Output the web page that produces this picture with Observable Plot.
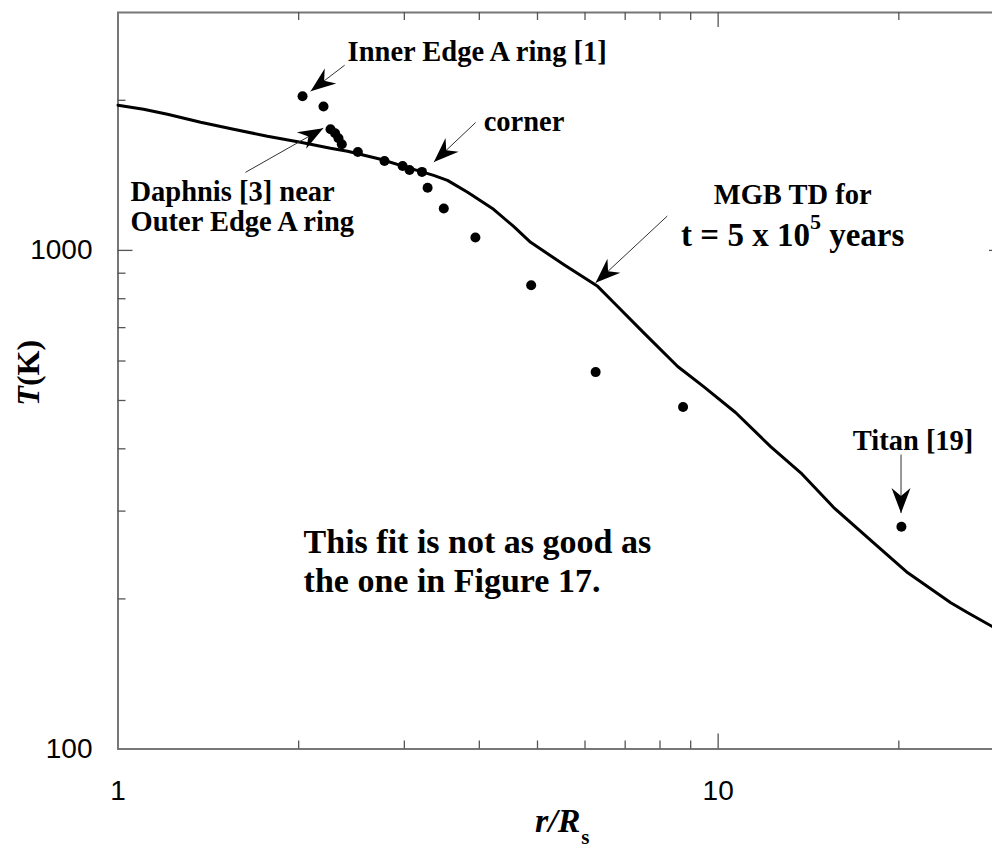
<!DOCTYPE html>
<html><head><meta charset="utf-8">
<script src="https://cdn.jsdelivr.net/npm/d3@7"></script>
<script src="https://cdn.jsdelivr.net/npm/@observablehq/plot@0.6"></script>
<style>html,body{margin:0;padding:0;background:#fff;overflow:hidden}</style>
</head><body><div id="chart"></div>
<script>
// Observed temperatures (dots)
const obsR = [2.03, 2.20, 2.26, 2.30, 2.33, 2.36, 2.51, 2.78, 2.98, 3.06, 3.21, 3.28, 3.49, 3.94, 4.88, 6.25, 8.74, 20.2];
const obsT = [2038, 1943, 1750, 1718, 1679, 1633, 1575, 1511, 1477, 1450, 1437, 1336, 1213, 1061, 851, 570, 485, 279];
// MGB TD model curve
const modelR = [1, 1.103, 1.209, 1.373, 1.558, 1.774, 2.014, 2.26, 2.413, 2.739, 3.108, 3.357, 3.54, 3.824, 4.225, 4.562, 4.87, 5.528, 6.298, 6.698, 7.511, 8.562, 9.459, 10.69, 12.23, 13.73, 15.58, 18.16, 20.70, 24.41, 26.06, 28.68, 30];
const modelT = [1955, 1919, 1875, 1807, 1750, 1694, 1648, 1603, 1581, 1523, 1454, 1414, 1382, 1308, 1209, 1117, 1038, 937, 847, 786, 684, 585, 533, 473, 404, 358, 305, 259, 225.6, 196.5, 187.6, 175.8, 171.8];
// Axis ticks
const xTickLabels = [1, 10];
const yTickLabels = [100, 1000];
const xMinorTicks = [2, 3, 4, 5, 6, 7, 8, 9, 20];
const xMajorTicks = [10];
const yMinorTicks = [200, 300, 400, 500, 600, 700, 800, 900, 2000];
const yMajorTicks = [1000];
// Annotations
const noteText = ["Inner Edge A ring [1]", "corner", "Daphnis [3] near\nOuter Edge A ring", "Titan [19]"];
const noteR = [2.413, 4.067, 1.049, 16.76];
const noteT = [2396, 1734, 1092, 398.5];
const mgbText = ["MGB TD for", "t = 5 x 10^5 years"];
const mgbR = [13.31, 13.31];
const mgbT = [1237, 1019];
const fitText = ["This fit is not as good as\nthe one in Figure 17."];
const fitR = [2.038];
const fitT = [206.7];
// Annotation arrows (tail -> tip)
const arrowR1 = [2.386, 1.631, 3.944, 8.228, 20.17];
const arrowT1 = [2352, 1434, 1805, 1172, 389.5];
const arrowR2 = [2.094, 2.198, 3.360, 6.249, 20.17];
const arrowT2 = [2086, 1758, 1504, 861, 297.3];

const obs = obsR.map((r, i) => ({r, T: obsT[i]}));
const model = modelR.map((r, i) => ({r, T: modelT[i]}));
const notes = noteText.map((t, i) => ({t, r: noteR[i], T: noteT[i]}));
const mgb = mgbText.map((t, i) => ({t, r: mgbR[i], T: mgbT[i]}));
const fit = fitText.map((t, i) => ({t, r: fitR[i], T: fitT[i]}));
const arrows = arrowR1.map((r, i) => ({r1: r, T1: arrowT1[i], r2: arrowR2[i], T2: arrowT2[i]}));

const W = 992, H = 850, mL = 117.5, mR = -12, mT = 12, mB = 101.5;
const innerW = W - mL - mR, innerH = H - mT - mB;
const serif = "'Liberation Serif', 'Times New Roman', serif";
const tickStroke = "#555";

const chart = Plot.plot({
  width: W, height: H,
  marginLeft: mL, marginRight: mR, marginTop: mT, marginBottom: mB,
  style: {fontFamily: "'Liberation Sans', Arial, sans-serif", background: "#fff", overflow: "hidden", color: "#000"},
  x: {type: "log", domain: [1, 30]},
  y: {type: "log", domain: [100, 3000]},
  marks: [
    Plot.frame({stroke: "#777", strokeWidth: 2}),
    // bottom & top ticks
    Plot.tickX(xMinorTicks, {x: d => d, insetTop: innerH - 8, stroke: tickStroke, strokeWidth: 1.3}),
    Plot.tickX(xMajorTicks, {x: d => d, insetTop: innerH - 15, stroke: tickStroke, strokeWidth: 1.3}),
    Plot.tickX(xMinorTicks, {x: d => d, insetBottom: innerH - 8, stroke: tickStroke, strokeWidth: 1.3}),
    Plot.tickX(xMajorTicks, {x: d => d, insetBottom: innerH - 15, stroke: tickStroke, strokeWidth: 1.3}),
    // left & right ticks
    Plot.tickY(yMinorTicks, {y: d => d, insetRight: innerW - 8, stroke: tickStroke, strokeWidth: 1.3}),
    Plot.tickY(yMajorTicks, {y: d => d, insetRight: innerW - 15, stroke: tickStroke, strokeWidth: 1.3}),
    Plot.tickY(yMinorTicks, {y: d => d, insetLeft: innerW - 8, stroke: tickStroke, strokeWidth: 1.3}),
    Plot.tickY(yMajorTicks, {y: d => d, insetLeft: innerW - 15, stroke: tickStroke, strokeWidth: 1.3}),
    Plot.axisX({ticks: xTickLabels, tickSize: 0, tickPadding: 31, fontSize: 28, label: null, tickFormat: d => String(d), fill: "#000"}),
    Plot.axisY({ticks: yTickLabels, tickSize: 0, tickPadding: 25.5, fontSize: 28, label: null, tickFormat: d => String(d), fill: "#000"}),
    // axis titles
    Plot.text(["T(K)"], {text: d => d, frameAnchor: "left", dx: -89.5, dy: -8, rotate: -90, fontSize: 32, fontWeight: "bold", fontFamily: serif, textAnchor: "middle", fill: "#000"}),
    Plot.text(["r/Rs"], {text: d => d, frameAnchor: "bottom", dx: 1, dy: 83, lineAnchor: "bottom", fontSize: 34, fontWeight: "bold", fontFamily: serif, textAnchor: "middle", fill: "#000"}),
    // model and data
    Plot.line(model, {x: "r", y: "T", stroke: "#000", strokeWidth: 3}),
    Plot.dot(obs, {x: "r", y: "T", r: 5, fill: "#000", stroke: null}),
    // annotation arrows
    Plot.link(arrows, {x1: "r1", y1: "T1", x2: "r2", y2: "T2", stroke: "#333", strokeWidth: 1}),
    // annotation texts
    Plot.text(notes, {x: "r", y: "T", text: "t", textAnchor: "start", lineAnchor: "bottom", lineHeight: 1.05, fontSize: 28.5, fontWeight: "bold", fontFamily: serif, fill: "#000"}),
    Plot.text(mgb.slice(0, 1), {x: "r", y: "T", text: "t", textAnchor: "middle", lineAnchor: "bottom", fontSize: 28.5, fontWeight: "bold", fontFamily: serif, fill: "#000"}),
    Plot.text(mgb.slice(1), {x: "r", y: "T", text: "t", textAnchor: "middle", lineAnchor: "bottom", fontSize: 33, fontWeight: "bold", fontFamily: serif, fill: "#000"}),
    Plot.text(fit, {x: "r", y: "T", text: "t", textAnchor: "start", lineAnchor: "bottom", lineHeight: 1.147, fontSize: 34, fontWeight: "bold", fontFamily: serif, fill: "#000"})
  ]
});
document.getElementById("chart").appendChild(chart);

// post-processing: mixed-style labels and barbed arrowheads
const svg = d3.select(chart);
svg.selectAll("text").each(function () {
  const t = this.textContent;
  const el = d3.select(this);
  if (t === "T(K)") {
    el.text(null);
    el.append("tspan").attr("font-style", "italic").text("T");
    el.append("tspan").text("(K)");
  } else if (t === "r/Rs") {
    el.text(null);
    el.append("tspan").attr("font-style", "italic").text("r/R");
    el.append("tspan").attr("font-size", 21).attr("dy", 12).attr("dx", 1).text("s");
  } else if (t.includes("^")) {
    const parts = t.split(/\^(\d+)/);
    el.text(null);
    el.append("tspan").text(parts[0]);
    el.append("tspan").attr("font-size", 22).attr("dy", -17).text(parts[1]);
    el.append("tspan").attr("dy", 17).text(parts[2]);
  }
});
const defs = svg.append("defs");
defs.append("marker")
  .attr("id", "barb")
  .attr("markerUnits", "userSpaceOnUse")
  .attr("orient", "auto")
  .attr("refX", 0).attr("refY", 0)
  .attr("markerWidth", 30).attr("markerHeight", 30)
  .attr("overflow", "visible")
  .append("path")
  .attr("d", "M0,0L-25,-9.5L-17,0L-25,9.5Z")
  .attr("fill", "#000");
svg.selectAll('g[aria-label="link"] path').attr("marker-end", "url(#barb)");
</script>
</body></html>
